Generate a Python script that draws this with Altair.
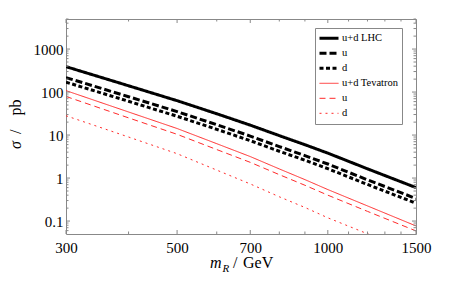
import altair as alt
import pandas as pd

# ---- data ----
masses = [300, 400, 500, 600, 700, 800, 900, 1000, 1200, 1500]
lhc_ud = [390, 140, 63, 31.3, 17, 9.7, 5.96, 3.8, 1.64, 0.6]
lhc_u = [217, 78, 35.1, 17.4, 9.47, 5.4, 3.32, 2.12, 0.91, 0.334]
lhc_d = [170, 61, 27.4, 13.6, 7.4, 4.2, 2.6, 1.65, 0.71, 0.26]
tev_ud = [108, 34.4, 14.2, 6.3, 3.16, 1.63, 0.92, 0.54, 0.225, 0.077]
tev_u = [79, 25.1, 10.4, 4.6, 2.32, 1.2, 0.68, 0.40, 0.168, 0.059]
tev_d = [28.1, 9.0, 3.69, 1.53, 0.73, 0.367, 0.207, 0.119, 0.0506, 0.0173]

series_names = ["u+d LHC", "u (LHC)", "d (LHC)", "u+d Tevatron", "u (Tevatron)", "d (Tevatron)"]
series_values = [lhc_ud, lhc_u, lhc_d, tev_ud, tev_u, tev_d]

x_major = [300, 500, 700, 1000, 1500]
x_minor = [400, 600, 800, 900, 1100, 1200, 1300, 1400]
y_major = [0.1, 1, 10, 100, 1000]
y_minor = [0.06, 0.07, 0.08, 0.09,
           0.2, 0.3, 0.4, 0.5, 0.6, 0.7, 0.8, 0.9,
           2, 3, 4, 5, 6, 7, 8, 9,
           20, 30, 40, 50, 60, 70, 80, 90,
           200, 300, 400, 500, 600, 700, 800, 900,
           2000, 3000, 4000, 5000]

colors = ["black", "black", "black", "#ff2a2a", "#ff2a2a", "#ff2a2a"]
dashes = [[1, 0], [7, 3], [4, 2.5], [1, 0], [6, 4], [2, 4]]
widths = [3, 3, 3, 1, 1, 1]

W, H = 350, 215
FONT = "Liberation Serif"

rows = []
for name, vals in zip(series_names, series_values):
    for m, v in zip(masses, vals):
        rows.append({"series": name, "m": m, "sigma": v})
df = pd.DataFrame(rows)

xscale = alt.Scale(type="log", domain=[300, 1500], nice=False)
yscale = alt.Scale(type="log", domain=[0.05, 5000], nice=False)

xaxis = alt.Axis(values=x_major, title=None, ticks=False, domain=False, grid=False,
                 labelPadding=6, labelFont=FONT, labelFontSize=15, labelColor="black",
                 labelFlush=False, labelOverlap=False,
                 labelExpr="format(datum.value, 'd')")
yaxis = alt.Axis(values=y_major, title=None, ticks=False, domain=False, grid=False,
                 labelPadding=3, labelFont=FONT, labelFontSize=15, labelColor="black",
                 labelOverlap=False,
                 labelExpr="datum.value < 1 ? '0.1' : format(datum.value, 'd')")

legend = alt.Legend(
    orient="none", legendX=249, legendY=9, title=None,
    symbolType="stroke", symbolSize=361,
    labelFont=FONT, labelFontSize=10.5, labelColor="black",
    strokeColor="#888", fillColor="white", padding=3,
    clipHeight=14.6, rowPadding=0, labelOffset=2,
    labelExpr=("indexof(datum.label, '(') > 0 ? slice(datum.label, 0, 1) : "
               "(datum.label == 'u+d Tevatron' ? datum.label + '\u00a0\u00a0\u00a0' : datum.label)"),
)

lines = alt.Chart(df).mark_line(clip=True).encode(
    x=alt.X("m:Q", scale=xscale, axis=xaxis),
    y=alt.Y("sigma:Q", scale=yscale, axis=yaxis),
    color=alt.Color("series:N", scale=alt.Scale(domain=series_names, range=colors), legend=legend),
    strokeDash=alt.StrokeDash("series:N", scale=alt.Scale(domain=series_names, range=dashes), legend=legend),
    strokeWidth=alt.StrokeWidth("series:N",
                                scale=alt.Scale(type="ordinal", domain=series_names, range=widths),
                                legend=legend),
)

TICK = "#888"
xmaj = pd.DataFrame({"m": x_major})
xmin = pd.DataFrame({"m": x_minor})
ymaj = pd.DataFrame({"sigma": y_major})
ymin = pd.DataFrame({"sigma": y_minor})

def xticks(d, ln):
    b = alt.Chart(d).mark_rule(color=TICK, strokeWidth=1).encode(
        x=alt.X("m:Q", scale=xscale, axis=xaxis), y=alt.value(H), y2=alt.value(H - ln))
    t = alt.Chart(d).mark_rule(color=TICK, strokeWidth=1).encode(
        x=alt.X("m:Q", scale=xscale, axis=xaxis), y=alt.value(0), y2=alt.value(ln))
    return [b, t]

def yticks(d, ln):
    l = alt.Chart(d).mark_rule(color=TICK, strokeWidth=1).encode(
        y=alt.Y("sigma:Q", scale=yscale, axis=yaxis), x=alt.value(0), x2=alt.value(ln))
    r = alt.Chart(d).mark_rule(color=TICK, strokeWidth=1).encode(
        y=alt.Y("sigma:Q", scale=yscale, axis=yaxis), x=alt.value(W), x2=alt.value(W - ln))
    return [l, r]

one = pd.DataFrame({"a": [0]})
def txt(s, x, y, size=16, style="normal", angle=0, align="left"):
    return alt.Chart(one).mark_text(
        text=s, font=FONT, fontSize=size, fontStyle=style, angle=angle,
        align=align, baseline="alphabetic", color="black"
    ).encode(x=alt.value(x), y=alt.value(y))

titles = [
    txt("m", 144, 249, style="italic"),
    txt("R", 156.5, 252.5, size=11, style="italic"),
    txt("/", 167, 249),
    txt("GeV", 177, 249),
    txt("σ", -45, 130, style="italic", angle=270),
    txt("/", -45, 115, angle=270),
    txt("pb", -45, 96.5, angle=270),
]

chart = alt.layer(
    lines,
    *xticks(xmaj, 4), *xticks(xmin, 2.5),
    *yticks(ymaj, 4), *yticks(ymin, 2.5),
    *titles,
).properties(
    width=W, height=H,
    autosize=alt.AutoSizeParams(type="none"),
    padding={"left": 58, "top": 11, "right": 33, "bottom": 40},
).configure_view(stroke="#888", strokeWidth=1)

chart.save("out.html", embed_options={"renderer": "svg", "actions": False})
